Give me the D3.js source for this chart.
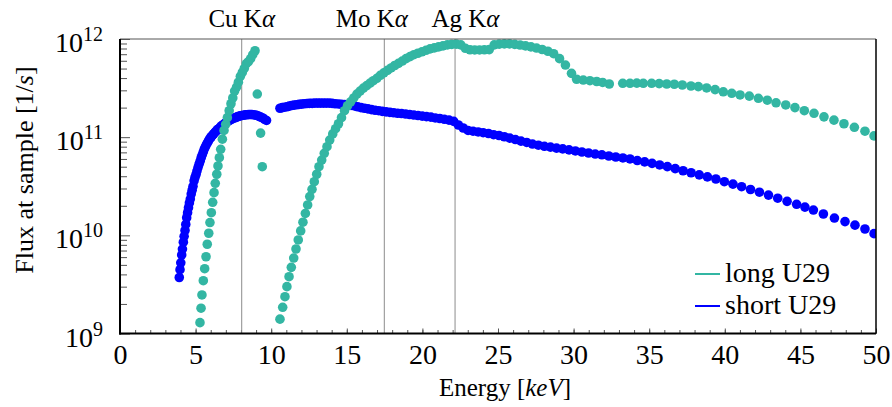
<!DOCTYPE html>
<html>
<head>
<meta charset="utf-8">
<script src="https://cdn.jsdelivr.net/npm/d3@7"></script>
<style>
body { margin: 0; background: #fff; }
svg text { font-family: "Liberation Serif", "DejaVu Serif", serif; fill: #000; }
</style>
</head>
<body>
<svg id="chart" width="892" height="407"></svg>
<script>
// flux at sample [1/s] vs energy [keV]
const longU29 = [
  [5.29,1.29e9],[5.36,1.81e9],[5.42,2.47e9],[5.51,3.45e9],[5.60,4.57e9],[5.69,6.05e9],[5.77,8.11e9],
  [5.87,1.05e10],[5.95,1.35e10],[6.04,1.70e10],[6.13,2.17e10],[6.22,2.72e10],[6.30,3.39e10],[6.40,4.19e10],
  [6.48,5.09e10],[6.57,6.18e10],[6.66,7.52e10],[6.77,9.55e10],[6.88,1.17e11],[6.99,1.35e11],[7.10,1.58e11],
  [7.22,1.86e11],[7.34,2.19e11],[7.46,2.51e11],[7.58,2.95e11],[7.71,3.24e11],[7.83,3.63e11],[7.96,4.17e11],
  [8.09,4.57e11],[8.22,5.01e11],[8.36,5.62e11],[8.50,5.89e11],[8.64,6.31e11],[8.78,6.92e11],[8.93,7.59e11],
  [9.08,2.75e11],[9.30,1.10e11],[9.41,5.0e10],
  [10.58,1.40e9],[10.76,1.85e9],[10.91,2.37e9],[11.04,3.00e9],[11.18,3.79e9],[11.33,4.72e9],[11.49,5.87e9],
  [11.64,7.26e9],[11.79,8.97e9],[11.95,1.11e10],[12.10,1.36e10],[12.26,1.67e10],[12.41,2.04e10],[12.55,2.48e10],
  [12.70,2.94e10],[12.85,3.52e10],[13.01,4.19e10],[13.16,5.00e10],[13.34,5.85e10],[13.51,6.85e10],[13.69,8.00e10],
  [13.87,9.35e10],[14.07,1.08e11],[14.26,1.22e11],[14.45,1.37e11],[14.65,1.58e11],[14.85,1.86e11],[15.05,2.09e11],
  [15.25,2.29e11],[15.46,2.51e11],[15.67,2.75e11],[15.88,2.95e11],[16.10,3.16e11],[16.32,3.35e11],[16.54,3.55e11],
  [16.76,3.76e11],[16.99,3.98e11],[17.22,4.27e11],[17.45,4.52e11],[17.69,4.79e11],[17.93,5.07e11],[18.17,5.37e11],
  [18.42,5.65e11],[18.67,5.96e11],[18.92,6.31e11],[19.18,6.61e11],[19.44,6.92e11],[19.70,7.16e11],[19.97,7.41e11],
  [20.24,7.67e11],[20.51,7.94e11],[20.79,8.13e11],[21.07,8.32e11],[21.36,8.51e11],[21.65,8.71e11],[21.94,8.81e11],
  [22.24,8.87e11],[22.54,8.71e11],[22.84,8.04e11],[23.15,7.76e11],[23.46,7.73e11],[23.78,7.73e11],[24.10,7.76e11],
  [24.42,7.80e11],[24.75,8.71e11],[25.08,8.87e11],[25.42,8.91e11],[25.76,8.91e11],[26.11,8.81e11],[26.46,8.69e11],
  [26.82,8.51e11],[27.18,8.32e11],[27.55,8.09e11],[27.92,7.82e11],[28.30,7.50e11],[28.68,7.08e11],[29.07,6.31e11],
  [29.46,5.43e11],[29.86,4.47e11],[30.20,3.89e11],[30.64,3.82e11],[31.08,3.76e11],[31.53,3.69e11],[31.92,3.61e11],
  [32.36,3.48e11],[33.25,3.54e11],[33.73,3.54e11],[34.18,3.55e11],[34.61,3.54e11],[35.16,3.54e11],[35.66,3.51e11],
  [36.16,3.48e11],[36.66,3.46e11],[37.19,3.40e11],[37.76,3.32e11],[38.25,3.27e11],[38.80,3.17e11],[39.36,3.05e11],
  [39.90,2.90e11],[40.46,2.80e11],[41.01,2.69e11],[41.62,2.62e11],[42.22,2.49e11],[42.81,2.38e11],[43.39,2.24e11],
  [44.03,2.13e11],[44.64,2.00e11],[45.26,1.86e11],[45.90,1.75e11],[46.56,1.61e11],[47.22,1.49e11],[47.88,1.37e11],
  [48.57,1.26e11],[49.27,1.15e11],[49.87,1.03e11]
];

const shortU29 = [
  [3.92,3.72e9],[3.97,4.47e9],[4.02,5.25e9],[4.08,6.31e9],[4.13,7.24e9],[4.19,8.51e9],[4.24,9.77e9],
  [4.30,1.12e10],[4.35,1.29e10],[4.41,1.51e10],[4.47,1.70e10],[4.53,1.91e10],[4.59,2.14e10],[4.65,2.34e10],
  [4.71,2.63e10],[4.77,2.88e10],[4.83,3.16e10],[4.90,3.59e10],[4.96,3.89e10],[5.03,4.17e10],[5.09,4.52e10],
  [5.16,4.90e10],[5.23,5.31e10],[5.30,5.69e10],[5.37,6.17e10],[5.44,6.61e10],[5.51,7.08e10],[5.58,7.59e10],
  [5.66,8.04e10],[5.73,8.51e10],[5.81,8.91e10],[5.88,9.33e10],[5.96,9.77e10],[6.04,1.01e11],[6.12,1.05e11],
  [6.20,1.08e11],[6.28,1.12e11],[6.36,1.15e11],[6.45,1.19e11],[6.53,1.22e11],[6.62,1.26e11],[6.71,1.30e11],
  [6.80,1.33e11],[6.89,1.36e11],[6.98,1.40e11],[7.07,1.43e11],[7.16,1.46e11],[7.26,1.50e11],[7.35,1.51e11],
  [7.45,1.55e11],[7.55,1.57e11],[7.65,1.58e11],[7.75,1.61e11],[7.85,1.63e11],[7.96,1.65e11],[8.06,1.66e11],
  [8.17,1.67e11],[8.28,1.69e11],[8.39,1.69e11],[8.50,1.70e11],[8.61,1.70e11],[8.72,1.70e11],[8.84,1.69e11],
  [8.95,1.68e11],[9.07,1.66e11],[9.19,1.63e11],[9.31,1.60e11],[9.44,1.57e11],[9.56,1.52e11],[9.69,1.48e11],
  [10.58,1.97e11],[10.73,2.00e11],[10.88,2.02e11],[11.04,2.04e11],[11.19,2.07e11],[11.35,2.10e11],[11.51,2.12e11],
  [11.68,2.14e11],[11.84,2.16e11],[12.01,2.17e11],[12.18,2.19e11],[12.36,2.20e11],[12.53,2.21e11],[12.71,2.21e11],
  [12.89,2.22e11],[13.08,2.22e11],[13.26,2.22e11],[13.45,2.22e11],[13.64,2.22e11],[13.84,2.22e11],[14.03,2.21e11],
  [14.23,2.19e11],[14.44,2.18e11],[14.64,2.16e11],[14.85,2.15e11],[15.06,2.13e11],[15.28,2.11e11],[15.50,2.08e11],
  [15.72,2.04e11],[15.94,2.00e11],[16.17,1.97e11],[16.40,1.94e11],[16.63,1.91e11],[16.87,1.88e11],[17.11,1.86e11],
  [17.35,1.83e11],[17.60,1.81e11],[17.85,1.79e11],[18.10,1.77e11],[18.36,1.75e11],[18.62,1.74e11],[18.89,1.72e11],
  [19.16,1.70e11],[19.43,1.68e11],[19.71,1.66e11],[19.99,1.64e11],[20.27,1.62e11],[20.56,1.60e11],[20.85,1.57e11],
  [21.15,1.55e11],[21.45,1.52e11],[21.76,1.49e11],[22.07,1.45e11],[22.38,1.33e11],[22.70,1.24e11],[23.02,1.17e11],
  [23.35,1.15e11],[23.69,1.13e11],[24.02,1.11e11],[24.37,1.09e11],[24.71,1.06e11],[25.07,1.04e11],[25.42,1.01e11],
  [25.78,9.77e10],[26.15,9.46e10],[26.52,9.12e10],[26.90,8.83e10],[27.28,8.51e10],[27.67,8.28e10],[28.07,8.07e10],
  [28.47,7.91e10],[28.87,7.74e10],[29.28,7.60e10],[29.70,7.43e10],[30.12,7.24e10],[30.55,7.06e10],[30.99,6.90e10],
  [31.43,6.73e10],[31.87,6.61e10],[32.33,6.43e10],[32.79,6.28e10],[33.26,6.14e10],[33.73,6.00e10],[34.21,5.78e10],
  [34.70,5.60e10],[35.19,5.41e10],[35.69,5.21e10],[36.20,5.01e10],[36.72,4.78e10],[37.24,4.55e10],[37.77,4.34e10],
  [38.31,4.13e10],[38.85,3.94e10],[39.41,3.75e10],[39.97,3.52e10],[40.54,3.32e10],[41.11,3.13e10],[41.70,2.93e10],
  [42.29,2.75e10],[42.89,2.57e10],[43.50,2.39e10],[44.12,2.22e10],[44.75,2.07e10],[45.30,1.94e10],[45.86,1.81e10],
  [46.52,1.65e10],[47.25,1.50e10],[47.95,1.38e10],[48.61,1.27e10],[49.27,1.16e10],[49.87,1.04e10]
];

const seriesNames = ["long U29", "short U29"];
const lineNames = ["Cu", "Mo", "Ag"];
const lineEnergies = [8.05, 17.48, 22.16];   // K-alpha lines
const lineLabelAt = [8.05, 16.65, 22.85];    // where the labels sit
const xTicks = [0, 5, 10, 15, 20, 25, 30, 35, 40, 45, 50];
const yTickExp = [9, 10, 11, 12];

const colors = ["#33b6a3", "#0000ff"];

var margin = {top: 39, right: 16, bottom: 73.5, left: 120},
    width = 892 - margin.left - margin.right,
    height = 407 - margin.top - margin.bottom;

var svg = d3.select("#chart");
var g = svg.append("g").attr("transform", "translate(" + margin.left + "," + margin.top + ")");

var x = d3.scaleLinear().domain([0, 50]).range([0, width]);
var y = d3.scaleLog().domain([1e9, 1e12]).range([height, 0]);

g.append("clipPath").attr("id", "plotclip")
  .append("rect").attr("width", width).attr("height", height);

// minor ticks
var minorX = d3.range(0, 51);
var minorY = [];
yTickExp.slice(0, -1).forEach(function(e) {
  for (var m = 2; m < 10; m++) minorY.push(m * Math.pow(10, e));
});

g.append("g").attr("class", "ticks")
  .attr("transform", "translate(0," + height + ")")
  .call(d3.axisBottom(x).tickValues(minorX).tickSize(-3.5).tickFormat(""));
g.append("g").attr("class", "ticks")
  .call(d3.axisLeft(y).tickValues(minorY).tickSize(-7).tickFormat(""));

var xAxis = g.append("g").attr("class", "ticks")
  .attr("transform", "translate(0," + height + ")")
  .call(d3.axisBottom(x).tickValues(xTicks).tickSize(-5).tickPadding(11));
xAxis.selectAll("text").style("font-size", "28px");

var yAxis = g.append("g").attr("class", "ticks")
  .call(d3.axisLeft(y).tickValues(yTickExp.map(function(e) { return Math.pow(10, e); }))
    .tickSize(-10).tickFormat(""));

g.selectAll(".ticks .domain").remove();
g.selectAll(".ticks line").attr("stroke", "#555").attr("stroke-width", 1);

// y tick labels 10^n
var ylab = g.selectAll(".ylab").data(yTickExp).enter().append("text")
  .attr("class", "ylab")
  .attr("x", -17)
  .attr("y", function(e) { return y(Math.pow(10, e)) + 13; })
  .attr("text-anchor", "end")
  .style("font-size", "28px");
ylab.append("tspan").text("10");
ylab.append("tspan").attr("dy", -11).style("font-size", "20px").text(function(e) { return e; });

// K-alpha reference lines
g.selectAll(".kline").data(lineEnergies).enter().append("line")
  .attr("x1", function(d) { return x(d); })
  .attr("x2", function(d) { return x(d); })
  .attr("y1", 0).attr("y2", height)
  .attr("stroke", "#8c8c8c").attr("stroke-width", 1);

var klab = g.selectAll(".klab").data(lineNames).enter().append("text")
  .attr("x", function(d, i) { return x(lineLabelAt[i]); })
  .attr("y", -12)
  .attr("text-anchor", "middle")
  .style("font-size", "25px");
klab.append("tspan").text(function(d) { return d + " K"; });
klab.append("tspan").style("font-style", "italic").text("α");

// data points
var plot = g.append("g").attr("clip-path", "url(#plotclip)");
[shortU29, longU29].forEach(function(data, k) {
  var col = k === 0 ? colors[1] : colors[0];
  plot.append("g").selectAll("circle").data(data).enter().append("circle")
    .attr("cx", function(d) { return x(d[0]); })
    .attr("cy", function(d) { return y(d[1]); })
    .attr("r", 4.8)
    .attr("fill", col);
});

// frame
g.append("line").attr("x1", 0).attr("x2", width).attr("y1", 0).attr("y2", 0)
  .attr("stroke", "#555").attr("stroke-width", 1);
g.append("line").attr("x1", width).attr("x2", width).attr("y1", 0).attr("y2", height)
  .attr("stroke", "#000").attr("stroke-width", 1.5);
g.append("line").attr("x1", 0).attr("x2", 0).attr("y1", 0).attr("y2", height + 1)
  .attr("stroke", "#000").attr("stroke-width", 2);
g.append("line").attr("x1", -1).attr("x2", width).attr("y1", height).attr("y2", height)
  .attr("stroke", "#000").attr("stroke-width", 2);

// axis titles
var xt = svg.append("text").attr("x", 505).attr("y", 396).attr("text-anchor", "middle")
  .style("font-size", "25px");
xt.append("tspan").text("Energy [");
xt.append("tspan").style("font-style", "italic").text("keV");
xt.append("tspan").text("]");

var yt = svg.append("text").attr("transform", "translate(33,170) rotate(-90)")
  .attr("text-anchor", "middle").style("font-size", "26px");
yt.append("tspan").text("Flux at sample [1/");
yt.append("tspan").style("font-style", "italic").text("s");
yt.append("tspan").text("]");

// legend
var leg = svg.append("g").attr("transform", "translate(695,274)");
seriesNames.forEach(function(name, i) {
  leg.append("line").attr("x1", 0).attr("x2", 25).attr("y1", i * 32).attr("y2", i * 32)
    .attr("stroke", colors[i]).attr("stroke-width", 2);
  leg.append("text").attr("x", 30).attr("y", i * 32 + 8).style("font-size", "28px").text(name);
});
</script>
</body>
</html>
